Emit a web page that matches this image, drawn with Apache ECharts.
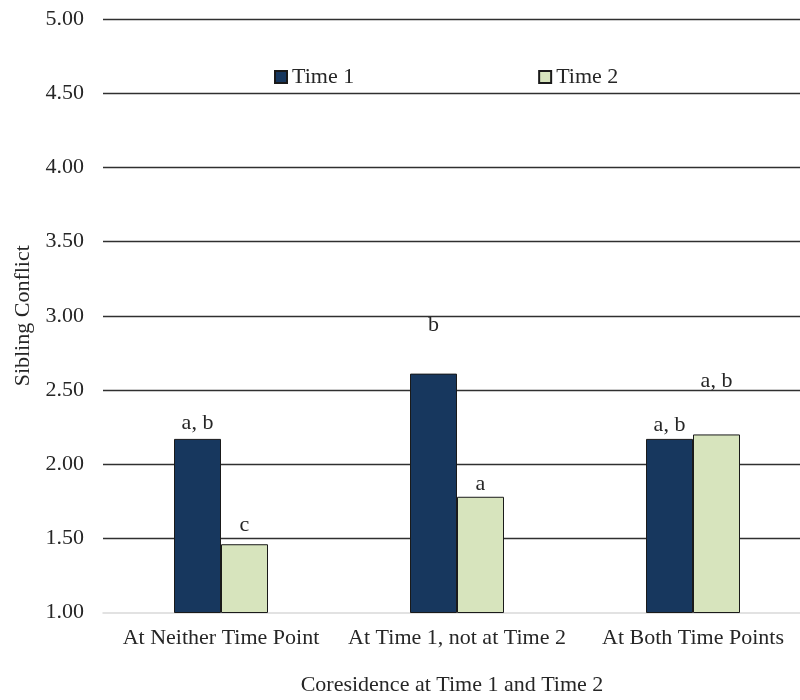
<!DOCTYPE html>
<html>
<head>
<meta charset="utf-8">
<script src="https://cdn.jsdelivr.net/npm/echarts@6/dist/echarts.min.js"></script>
<style>
html,body{margin:0;padding:0;background:#fff;overflow:hidden;width:800px;height:700px;}
#chart{width:830px;height:700px;}
</style>
</head>
<body>
<div id="chart"></div>
<script>
var categories = ['At Neither Time Point', 'At Time 1, not at Time 2', 'At Both Time Points'];
var time1Values = [2.17, 2.61, 2.17];
var time2Values = [1.46, 1.78, 2.20];
var time1Letters = ['a, b', 'b', 'a, b'];
var time2Letters = ['c', 'a', 'a, b'];
var yTicks = { min: 1, max: 5, interval: 0.5 };
var seriesNames = ['Time 1', 'Time 2'];

var FONT = '"Liberation Serif", "Times New Roman", serif';
var FS = 22;
var TXT = '#262626';
var t1Gap = [5, 37, 3];
var t2Gap = [8, 2, 42];

function buildData(values, letters, gaps) {
  return values.map(function (v, i) {
    return { value: v, label: { formatter: letters[i], distance: gaps[i] } };
  });
}

var chart = echarts.init(document.getElementById('chart'), null, { renderer: 'canvas' });
chart.setOption({
  animation: false,
  textStyle: { fontFamily: FONT, color: TXT },
  grid: { left: 103, top: 19, width: 708, bottom: 87.5, containLabel: false },
  title: {
    text: 'Coresidence at Time 1 and Time 2',
    left: 452, top: 674, textAlign: 'center', padding: 0,
    textStyle: { fontFamily: FONT, fontSize: FS, fontWeight: 'normal', color: TXT }
  },
  legend: {
    data: seriesNames,
    left: 274, top: 66, padding: 0,
    itemWidth: 12, itemHeight: 12, itemGap: 184,
    icon: 'rect',
    textStyle: { fontFamily: FONT, fontSize: FS, color: TXT }
  },
  xAxis: {
    type: 'category',
    data: categories,
    axisLine: { show: true, lineStyle: { color: '#d9d9d9', width: 1.5 } },
    axisTick: { show: false },
    axisLabel: { fontFamily: FONT, fontSize: FS, color: TXT, margin: 15, interval: 0 }
  },
  yAxis: {
    type: 'value',
    min: yTicks.min, max: yTicks.max, interval: yTicks.interval,
    name: 'Sibling Conflict',
    nameLocation: 'middle', nameGap: 68, nameRotate: 90,
    nameTextStyle: { fontFamily: FONT, fontSize: FS, color: TXT },
    axisLine: { show: false },
    axisTick: { show: false },
    axisLabel: {
      fontFamily: FONT, fontSize: FS, color: TXT, margin: 19,
      formatter: function (v) { return v.toFixed(2); },
      showMaxLabel: true, showMinLabel: true
    },
    splitLine: {
      lineStyle: { color: '#303030', width: 1.3 },
      showMinLine: false
    }
  },
  series: [
    {
      name: seriesNames[0], type: 'bar', barWidth: 47, barGap: '0%',
      itemStyle: { color: '#17375E', borderColor: '#1a1a1a', borderWidth: 1 },
      label: { show: true, position: 'top', fontFamily: FONT, fontSize: FS, color: TXT },
      data: buildData(time1Values, time1Letters, t1Gap)
    },
    {
      name: seriesNames[1], type: 'bar', barWidth: 47, barGap: '0%',
      itemStyle: { color: '#D7E4BD', borderColor: '#1a1a1a', borderWidth: 1 },
      label: { show: true, position: 'top', fontFamily: FONT, fontSize: FS, color: TXT },
      data: buildData(time2Values, time2Letters, t2Gap)
    }
  ]
});
</script>
</body>
</html>
